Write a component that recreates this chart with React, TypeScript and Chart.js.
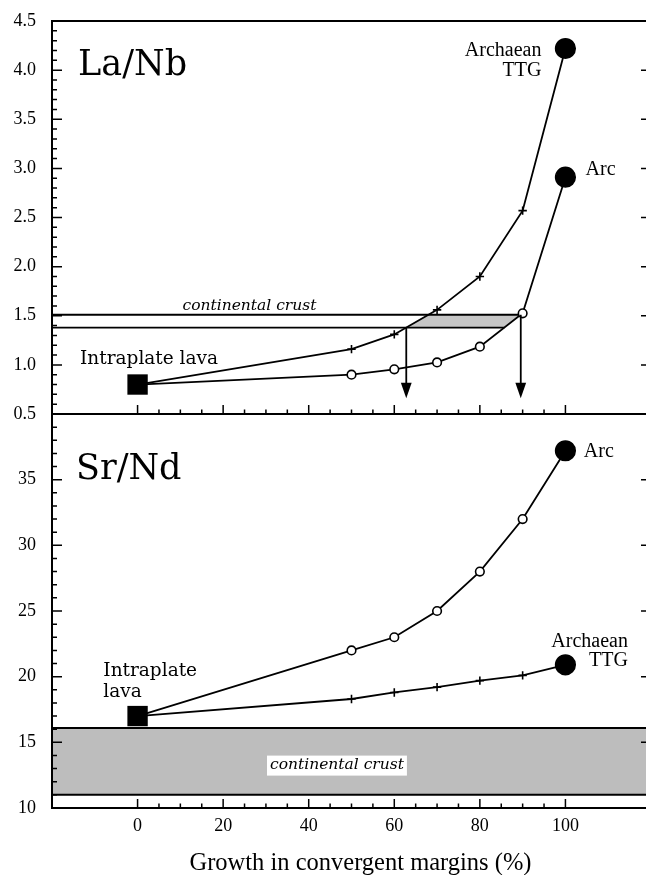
import React, { useEffect, useRef } from 'react';
import { Chart, registerables } from 'chart.js';

Chart.register(...registerables);

// ---------------- data ----------------
const growthPct = [0, 50, 60, 70, 80, 90, 100];
const laNbArc = [0.8, 0.9, 0.955, 1.025, 1.185, 1.525, 2.91];
const laNbTTG = [0.8, 1.16, 1.31, 1.56, 1.9, 2.57, 4.22];
const laNbCrust = [1.38, 1.51];
const laNbArrowTip = 0.66;
const srNdArc = [17.0, 22.0, 23.0, 25.0, 28.0, 32.0, 37.2];
const srNdTTG = [17.0, 18.3, 18.8, 19.2, 19.7, 20.1, 20.9];
const srNdCrust = [11.0, 16.1];

const xTicks = [0, 20, 40, 60, 80, 100];
const laNbTicks = [0.5, 1.0, 1.5, 2.0, 2.5, 3.0, 3.5, 4.0, 4.5];
const srNdTicks = [10, 15, 20, 25, 30, 35];
const xRange = [-20, 120];
const laNbRange = [0.5, 4.5];
const srNdRange = [10, 40];

// ---------------- helpers ----------------
function crossAt(xs: number[], ys: number[], level: number): number {
  for (let i = 0; i < xs.length - 1; i++) {
    const a = ys[i] - level;
    const b = ys[i + 1] - level;
    if (a === 0) return xs[i];
    if (a * b < 0) return xs[i] + (xs[i + 1] - xs[i]) * (a / (a - b));
  }
  return xs[xs.length - 1];
}

type Note = { text: string; x: number; y: number; font: string; align: CanvasTextAlign };

const SERIF_T = '"Liberation Serif", "Times New Roman", serif';
const SERIF_P = '"DejaVu Serif", serif';
const LW = 1.8;

function framePlugin(cfg: {
  id: string;
  yMin: number;
  yMax: number;
  yMajor: number;
  yMinor: number;
  drawTop: boolean;
  notes: Note[];
  extra?: (chart: any) => void;
  after?: (chart: any) => void;
}) {
  return {
    id: cfg.id,
    afterDatasetsDraw(chart: any) {
      if (cfg.extra) cfg.extra(chart);
    },
    afterDraw(chart: any) {
      const { ctx, chartArea: a, scales } = chart;
      const xs = scales.x;
      const ys = scales.y;
      ctx.save();
      ctx.strokeStyle = '#000';
      ctx.lineWidth = 2;
      ctx.beginPath();
      if (cfg.drawTop) {
        ctx.moveTo(a.left - 1, a.top);
        ctx.lineTo(a.right + 1, a.top);
      }
      ctx.moveTo(a.left, a.top);
      ctx.lineTo(a.left, a.bottom + 1);
      ctx.moveTo(a.right, a.top);
      ctx.lineTo(a.right, a.bottom + 1);
      ctx.moveTo(a.left - 1, a.bottom);
      ctx.lineTo(a.right + 1, a.bottom);
      ctx.stroke();

      ctx.lineWidth = 1.5;
      ctx.beginPath();
      const n = Math.round((cfg.yMax - cfg.yMin) / cfg.yMinor);
      const per = Math.round(cfg.yMajor / cfg.yMinor);
      for (let i = 0; i <= n; i++) {
        const v = cfg.yMin + i * cfg.yMinor;
        const py = ys.getPixelForValue(v);
        const len = i % per === 0 ? 10 : 5;
        ctx.moveTo(a.left, py);
        ctx.lineTo(a.left + len, py);
        ctx.moveTo(a.right, py);
        ctx.lineTo(a.right - len, py);
      }
      const x0 = xTicks[0];
      const x1 = xTicks[xTicks.length - 1];
      const xMajor = xTicks[1] - xTicks[0];
      for (let v = x0; v <= x1; v += xMajor / 4) {
        const px = xs.getPixelForValue(v);
        const len = (v - x0) % xMajor === 0 ? 9 : 4.5;
        ctx.moveTo(px, a.bottom);
        ctx.lineTo(px, a.bottom - len);
      }
      ctx.stroke();

      ctx.fillStyle = '#000';
      ctx.textBaseline = 'alphabetic';
      for (const nt of cfg.notes) {
        ctx.font = nt.font;
        ctx.textAlign = nt.align;
        ctx.fillText(nt.text, xs.getPixelForValue(nt.x), ys.getPixelForValue(nt.y));
      }
      if (cfg.after) cfg.after(chart);
      ctx.restore();
    },
  };
}

const pts = (ys: number[]) => growthPct.map((g, i) => ({ x: g, y: ys[i] }));

const tickFont = { family: SERIF_T, size: 18 };

function baseOptions(yRange: number[], yTicks: number[], yFmt: (v: number) => string, xVisible: boolean, padding: any) {
  return {
    responsive: false,
    animation: false as const,
    events: [] as any[],
    layout: { padding },
    plugins: {
      legend: { display: false },
      tooltip: { enabled: false },
      filler: { drawTime: 'beforeDatasetsDraw' as const },
    },
    scales: {
      x: {
        type: 'linear' as const,
        min: xRange[0],
        max: xRange[1],
        display: xVisible,
        grid: { display: false, drawTicks: false },
        border: { display: false },
        afterBuildTicks: (s: any) => {
          s.ticks = xTicks.map((v) => ({ value: v }));
        },
        afterFit: (s: any) => {
          s.height = xVisible ? 67 : 0;
        },
        ticks: { font: tickFont, color: '#000', padding: 7.5, maxRotation: 0, autoSkip: false },
      },
      y: {
        type: 'linear' as const,
        min: yRange[0],
        max: yRange[1],
        grid: { display: false, drawTicks: false },
        border: { display: false },
        afterBuildTicks: (s: any) => {
          s.ticks = yTicks.map((v) => ({ value: v }));
        },
        afterFit: (s: any) => {
          s.width = 52;
        },
        ticks: {
          font: tickFont,
          color: '#000',
          padding: 16,
          autoSkip: false,
          callback: (v: any) => yFmt(Number(v)),
        },
      },
    },
  };
}

function seriesDataset(ys: number[], kind: 'arc' | 'ttg') {
  const last = ys.length - 1;
  return {
    data: pts(ys),
    showLine: true,
    borderColor: '#000',
    borderWidth: LW,
    pointStyle: ys.map((_, i) => (i === last ? 'circle' : kind === 'arc' ? 'circle' : 'cross')),
    pointRadius: ys.map((_, i) => (i === 0 ? 0 : i === last ? 9.8 : kind === 'arc' ? 4.3 : 4.2)),
    pointBackgroundColor: ys.map((_, i) => (i === last ? '#000' : kind === 'arc' ? '#fff' : '#000')),
    pointBorderColor: '#000',
    pointBorderWidth: 1.6,
  };
}

function squareDataset(y: number) {
  return {
    data: [{ x: growthPct[0], y }],
    showLine: false,
    pointStyle: 'rect',
    pointRadius: 14.4,
    pointBackgroundColor: '#000',
    pointBorderColor: '#000',
    pointBorderWidth: 0,
  };
}

// canvas geometry (page pixels)
const PAD = 30;
const CANVAS_W = 651 + PAD;
const TOP_AREA = [21, 414];
const BOT_AREA_TOP = 414;
const PAGE_H = 875;
const X_AXIS_H = 67;

export default function App() {
  const topRef = useRef<HTMLCanvasElement>(null);
  const botRef = useRef<HTMLCanvasElement>(null);

  useEffect(() => {
    // ---------- La/Nb panel ----------
    const ttgLow = crossAt(growthPct, laNbTTG, laNbCrust[0]);
    const ttgHigh = crossAt(growthPct, laNbTTG, laNbCrust[1]);
    const arcLow = crossAt(growthPct, laNbArc, laNbCrust[0]);
    const arcHigh = crossAt(growthPct, laNbArc, laNbCrust[1]);

    const topNotes: Note[] = [
      { text: 'La/Nb', x: -13.9, y: 3.95, font: `35px ${SERIF_P}`, align: 'left' },
      { text: 'Archaean', x: 94.4, y: 4.144, font: `20px ${SERIF_T}`, align: 'right' },
      { text: 'TTG', x: 94.4, y: 3.94, font: `20px ${SERIF_T}`, align: 'right' },
      { text: 'Arc', x: 104.7, y: 2.93, font: `20px ${SERIF_T}`, align: 'left' },
      { text: 'Intraplate lava', x: -13.45, y: 1.009, font: `18.5px ${SERIF_P}`, align: 'left' },
      { text: 'continental crust', x: 10.5, y: 1.558, font: `italic 15.5px ${SERIF_P}`, align: 'left' },
    ];

    const arrows = [
      { x: ttgLow, from: laNbCrust[0] },
      { x: arcHigh, from: laNbCrust[1] },
    ];

    const top = new Chart(topRef.current as HTMLCanvasElement, {
      type: 'scatter',
      data: {
        datasets: [
          squareDataset(laNbTTG[0]) as any,
          seriesDataset(laNbTTG, 'ttg') as any,
          seriesDataset(laNbArc, 'arc') as any,
          {
            data: [
              { x: xRange[0], y: laNbCrust[1] },
              { x: arcHigh, y: laNbCrust[1] },
            ],
            showLine: true,
            borderColor: '#000',
            borderWidth: LW,
            pointRadius: 0,
          },
          {
            data: [
              { x: xRange[0], y: laNbCrust[0] },
              { x: arcLow, y: laNbCrust[0] },
            ],
            showLine: true,
            borderColor: '#000',
            borderWidth: LW,
            pointRadius: 0,
          },
          {
            data: [
              { x: ttgLow, y: laNbCrust[0] },
              { x: ttgHigh, y: laNbCrust[1] },
              { x: arcHigh, y: laNbCrust[1] },
              { x: arcLow, y: laNbCrust[0] },
            ],
            showLine: true,
            borderWidth: 0,
            borderColor: 'rgba(0,0,0,0)',
            backgroundColor: '#c6c6c6',
            fill: 'shape',
            pointRadius: 0,
          },
        ],
      },
      options: baseOptions(laNbRange, laNbTicks, (v) => v.toFixed(1), false, {
        top: PAD,
        bottom: PAD,
        left: 0,
        right: PAD,
      }) as any,
      plugins: [
        framePlugin({
          id: 'frameTop',
          yMin: laNbRange[0],
          yMax: laNbRange[1],
          yMajor: 0.5,
          yMinor: 0.1,
          drawTop: true,
          notes: topNotes,
          extra: (chart: any) => {
            const { ctx, scales } = chart;
            ctx.save();
            ctx.strokeStyle = '#000';
            ctx.fillStyle = '#000';
            ctx.lineWidth = LW;
            const tip = scales.y.getPixelForValue(laNbArrowTip);
            for (const ar of arrows) {
              const px = scales.x.getPixelForValue(ar.x);
              const py = scales.y.getPixelForValue(ar.from);
              ctx.beginPath();
              ctx.moveTo(px, py);
              ctx.lineTo(px, tip - 14);
              ctx.stroke();
              ctx.beginPath();
              ctx.moveTo(px - 5.4, tip - 15.5);
              ctx.lineTo(px + 5.4, tip - 15.5);
              ctx.lineTo(px, tip);
              ctx.closePath();
              ctx.fill();
            }
            ctx.restore();
          },
        }),
      ],
    });

    // ---------- Sr/Nd panel ----------
    const botNotes: Note[] = [
      { text: 'Sr/Nd', x: -14.4, y: 35.05, font: `35px ${SERIF_P}`, align: 'left' },
      { text: 'Arc', x: 104.3, y: 36.75, font: `20px ${SERIF_T}`, align: 'left' },
      { text: 'Archaean', x: 114.6, y: 22.28, font: `20px ${SERIF_T}`, align: 'right' },
      { text: 'TTG', x: 114.6, y: 20.81, font: `20px ${SERIF_T}`, align: 'right' },
      { text: 'Intraplate', x: -8.0, y: 20.05, font: `18.5px ${SERIF_P}`, align: 'left' },
      { text: 'lava', x: -8.0, y: 18.45, font: `18.5px ${SERIF_P}`, align: 'left' },
    ];

    const bot = new Chart(botRef.current as HTMLCanvasElement, {
      type: 'scatter',
      data: {
        datasets: [
          squareDataset(srNdArc[0]) as any,
          seriesDataset(srNdArc, 'arc') as any,
          seriesDataset(srNdTTG, 'ttg') as any,
          {
            data: [
              { x: xRange[0], y: srNdCrust[1] },
              { x: xRange[1], y: srNdCrust[1] },
            ],
            showLine: true,
            borderColor: '#000',
            borderWidth: 2,
            pointRadius: 0,
            fill: '+1',
            backgroundColor: '#bdbdbd',
          },
          {
            data: [
              { x: xRange[0], y: srNdCrust[0] },
              { x: xRange[1], y: srNdCrust[0] },
            ],
            showLine: true,
            borderColor: '#000',
            borderWidth: 2,
            pointRadius: 0,
          },
        ],
      },
      options: baseOptions(srNdRange, srNdTicks, (v) => String(v), true, {
        top: PAD,
        bottom: 0,
        left: 0,
        right: PAD,
      }) as any,
      plugins: [
        framePlugin({
          id: 'frameBot',
          yMin: srNdRange[0],
          yMax: srNdRange[1],
          yMajor: 5,
          yMinor: 1,
          drawTop: false,
          notes: botNotes,
          extra: (chart: any) => {
            const { ctx, scales } = chart;
            ctx.save();
            const label = 'continental crust';
            ctx.font = `italic 15.5px ${SERIF_P}`;
            const w = ctx.measureText(label).width;
            const cx = scales.x.getPixelForValue(46.6);
            const by = scales.y.getPixelForValue(13.0);
            ctx.fillStyle = '#fff';
            ctx.fillRect(cx - w / 2 - 3, by - 13, w + 6, 20);
            ctx.fillStyle = '#000';
            ctx.textAlign = 'center';
            ctx.textBaseline = 'alphabetic';
            ctx.fillText(label, cx, by);
            ctx.restore();
          },
          after: (chart: any) => {
            const { ctx, scales, chartArea } = chart;
            ctx.font = `24.5px ${SERIF_T}`;
            ctx.fillStyle = '#000';
            ctx.textAlign = 'center';
            ctx.textBaseline = 'alphabetic';
            ctx.fillText('Growth in convergent margins (%)', scales.x.getPixelForValue(52.1), chartArea.bottom + 62);
          },
        }),
      ],
    });

    return () => {
      top.destroy();
      bot.destroy();
    };
  }, []);

  const topCanvasTop = TOP_AREA[0] - PAD;
  const topCanvasH = TOP_AREA[1] - TOP_AREA[0] + 2 * PAD;
  const botCanvasTop = BOT_AREA_TOP - PAD;
  const botCanvasH = PAGE_H - botCanvasTop;

  return (
    <div
      style={{
        position: 'absolute',
        left: 0,
        top: 0,
        width: 646,
        height: PAGE_H,
        overflow: 'hidden',
        background: '#fff',
      }}
    >
      <canvas
        ref={botRef}
        width={CANVAS_W}
        height={botCanvasH}
        style={{ position: 'absolute', left: 0, top: botCanvasTop, display: 'block' }}
      />
      <canvas
        ref={topRef}
        width={CANVAS_W}
        height={topCanvasH}
        style={{ position: 'absolute', left: 0, top: topCanvasTop, display: 'block' }}
      />
    </div>
  );
}
